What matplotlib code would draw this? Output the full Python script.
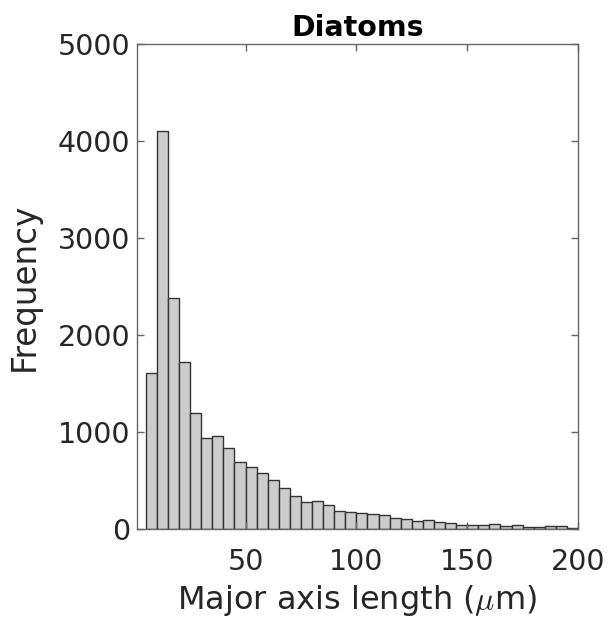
import numpy as np
import matplotlib
matplotlib.use('Agg')
import matplotlib.pyplot as plt

# histogram counts, bins of 5 um starting at 5 um
bin_start = 5
bin_width = 5
counts = [1610, 4100, 2385, 1720, 1200, 940, 960, 830, 695, 635,
          580, 505, 420, 345, 280, 293, 245, 190, 180, 165,
          150, 141, 110, 100, 83, 97, 76, 59, 46, 40,
          43, 48, 33, 42, 17, 17, 35, 26, 12]
xticks = [50, 100, 150, 200]
yticks = [0, 1000, 2000, 3000, 4000, 5000]

plt.rcParams['font.family'] = ['DejaVu Sans']
plt.rcParams['mathtext.fontset'] = 'cm'

fig = plt.figure(figsize=(6.08, 6.27), dpi=100)
ax = fig.add_axes([0.2253, 0.1563, 0.9507 - 0.2253, 0.9298 - 0.1563])

lefts = bin_start + bin_width * np.arange(len(counts))
ax.bar(lefts, counts, width=bin_width, align='edge',
       color='#cccccc', edgecolor='#333333', linewidth=1.0)

ax.set_xlim(1, 200)
ax.set_ylim(0, 5000)
ax.set_xticks(xticks)
ax.set_yticks(yticks)

for s in ax.spines.values():
    s.set_color('#666666')
    s.set_linewidth(1.0)

ax.tick_params(direction='in', length=5, width=1, color='#666666',
               top=True, right=True, labelsize=20.5, labelcolor='#262626')
ax.tick_params(axis='x', pad=14)
ax.tick_params(axis='y', pad=5)

ax.set_title('Diatoms', fontsize=20.5, fontweight='bold', pad=6)
ax.set_xlabel(r'Major axis length ($\mu$m)', fontsize=23, color='#262626', labelpad=5)
ax.set_ylabel('Frequency', fontsize=23.5, color='#262626', labelpad=12)

fig.savefig('out.png', dpi=100)
